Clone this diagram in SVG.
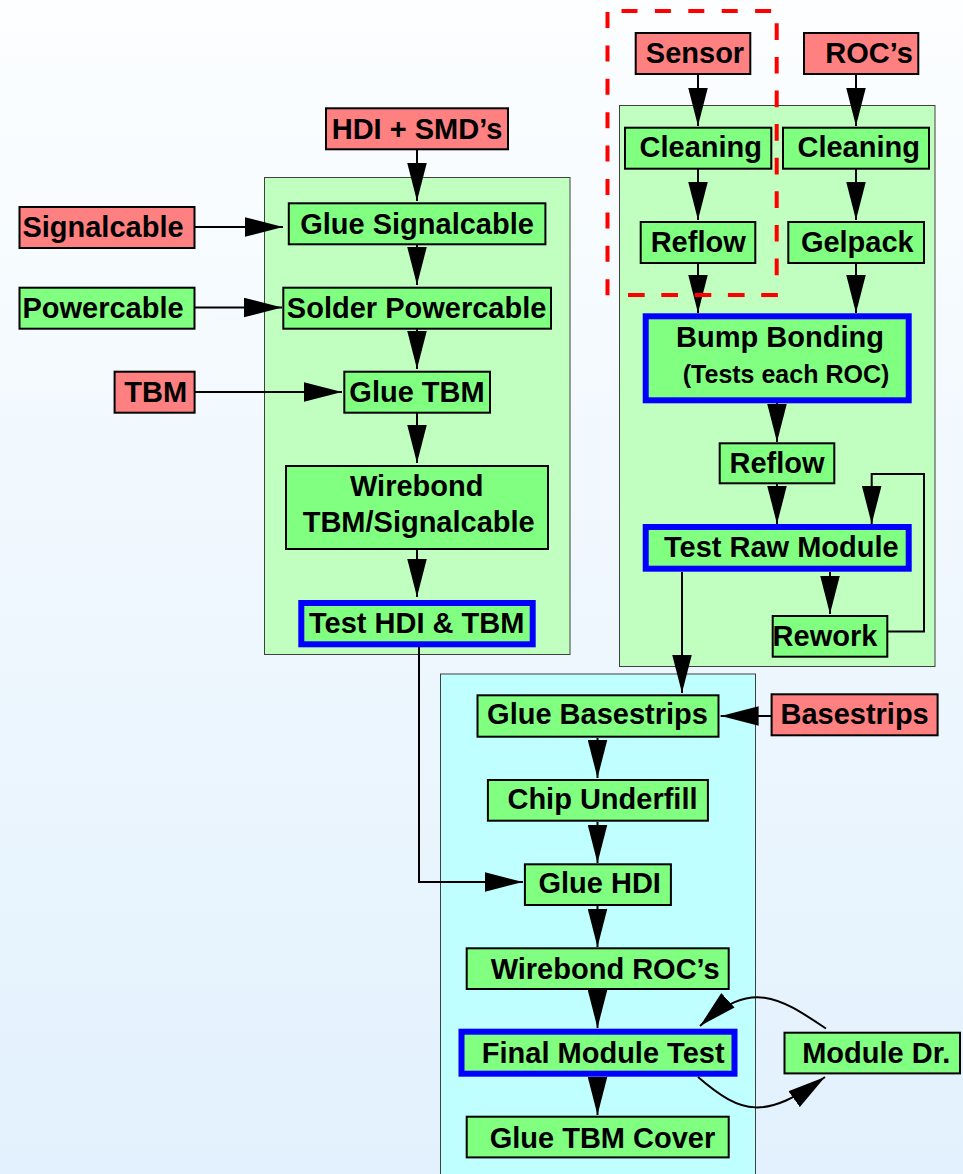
<svg xmlns="http://www.w3.org/2000/svg" width="963" height="1174" viewBox="0 0 963 1174">
<defs>
<linearGradient id="bg" x1="0" y1="0" x2="0" y2="1">
<stop offset="0" stop-color="#fcfeff"/>
<stop offset="1" stop-color="#e2f1fd"/>
</linearGradient>
<marker id="ah" markerUnits="userSpaceOnUse" markerWidth="38" markerHeight="20" viewBox="0 0 37 19" refX="37" refY="9.5" orient="auto">
<path d="M0,0 L37,9.5 L0,19 Z" fill="#000"/>
</marker>
<style>
.cont{stroke:#404040;stroke-width:1}
.cg{fill:#c0ffc0}
.cc{fill:#c0ffff}
.red{fill:#ff8080;stroke:#000;stroke-width:2}
.grn{fill:#80ff80;stroke:#000;stroke-width:2}
.tst{fill:#80ff80;stroke:#0000ff;stroke-width:6}
text{font-family:"Liberation Sans",Arial,Helvetica,sans-serif;font-weight:bold;font-size:29px;fill:#000;text-anchor:middle}
.sm{font-size:25px}
.edge{fill:none;stroke:#000;stroke-width:2;marker-end:url(#ah)}
.dash{fill:none;stroke:#ff0000;stroke-width:4;stroke-dasharray:16 17.4}
</style>
</defs>
<rect x="0" y="0" width="963" height="1174" fill="url(#bg)"/>

<g id="containers">
<rect id="c-left" class="cont cg" x="264.5" y="177.5" width="305.5" height="477"/>
<rect id="c-right" class="cont cg" x="619.5" y="105.5" width="315.5" height="561"/>
<rect id="c-bottom" class="cont cc" x="440.5" y="674" width="315" height="520"/>
</g>

<g id="connectors">
<path class="edge" d="M417,150 L417,201"/>
<path class="edge" d="M195,227 L283,227"/>
<path class="edge" d="M417,245 L417,285"/>
<path class="edge" d="M195,307.5 L282,307.5"/>
<path class="edge" d="M417,329 L417,369"/>
<path class="edge" d="M195,392 L342,392"/>
<path class="edge" d="M417,413 L417,463"/>
<path class="edge" d="M417,550 L417,597"/>
<path class="edge" d="M419,647 L419,882 L523,882"/>
<path class="edge" d="M698,74 L698,126"/>
<path class="edge" d="M856,74 L856,126"/>
<path class="edge" d="M698,169 L698,220"/>
<path class="edge" d="M856,169 L856,220"/>
<path class="edge" d="M698,264 L698,313"/>
<path class="edge" d="M856,264 L856,313"/>
<path class="edge" d="M777,403 L777,442"/>
<path class="edge" d="M777,484 L777,524"/>
<path class="edge" d="M830,572 L830,614"/>
<path class="edge" d="M888,631.5 L924,631.5 L924,474 L871.7,474 L871.7,524"/>
<path class="edge" d="M682,572 L682,693"/>
<path class="edge" d="M771,716 L720.6,716"/>
<path class="edge" d="M597.5,738 L597.5,778"/>
<path class="edge" d="M597.5,822 L597.5,863"/>
<path class="edge" d="M597.5,906 L597.5,947"/>
<path class="edge" d="M597.5,990 L597.5,1028"/>
<path class="edge" d="M597.5,1077 L597.5,1115"/>
<path class="edge" d="M826,1028.5 C780,998 752,978 700,1026"/>
<path class="edge" d="M698,1077 C742,1115 765,1120 825,1077"/>
</g>

<g id="n-hdi"><rect class="red" x="326" y="108.3" width="182" height="41"/><text x="417" y="138.5">HDI + SMD’s</text></g>
<g id="n-signalcable"><rect class="red" x="19.5" y="207" width="175" height="41"/><text x="103" y="237">Signalcable</text></g>
<g id="n-glue-signalcable"><rect class="grn" x="288.8" y="203.3" width="256.6" height="41"/><text x="417" y="233.5">Glue Signalcable</text></g>
<g id="n-powercable"><rect class="grn" x="19.5" y="287.7" width="175" height="41"/><text x="103" y="317.5">Powercable</text></g>
<g id="n-solder"><rect class="grn" x="283.3" y="287.7" width="267.7" height="41"/><text x="416.6" y="317.5">Solder Powercable</text></g>
<g id="n-tbm"><rect class="red" x="114.6" y="371.7" width="80" height="41"/><text x="155.7" y="401.7">TBM</text></g>
<g id="n-glue-tbm"><rect class="grn" x="344.3" y="371.7" width="145.7" height="41"/><text x="417" y="401.7">Glue TBM</text></g>
<g id="n-wirebond-tbm"><rect class="grn" x="286" y="466" width="262" height="83"/><text x="416.7" y="496">Wirebond</text><text x="418.7" y="531.7">TBM/Signalcable</text></g>
<g id="n-test-hdi"><rect class="tst" x="301.3" y="603" width="231.4" height="41.3"/><text x="416.7" y="633.3">Test HDI &amp; TBM</text></g>

<g id="n-sensor"><rect class="red" x="635.7" y="33" width="114.6" height="41"/><text x="695" y="63.3">Sensor</text></g>
<g id="n-rocs"><rect class="red" x="804" y="33" width="114.3" height="41"/><text x="869" y="63.3">ROC’s</text></g>
<g id="n-cleaning-l"><rect class="grn" x="625" y="127.7" width="146.3" height="41"/><text x="700.8" y="156.7">Cleaning</text></g>
<g id="n-cleaning-r"><rect class="grn" x="783" y="127.7" width="146" height="41"/><text x="858.7" y="156.7">Cleaning</text></g>
<g id="n-reflow-1"><rect class="grn" x="640.7" y="222" width="114.6" height="41"/><text x="698.2" y="252.3">Reflow</text></g>
<g id="n-gelpack"><rect class="grn" x="788.3" y="222" width="135.7" height="41"/><text x="857.3" y="252.3">Gelpack</text></g>
<g id="n-bump"><rect class="tst" x="645.7" y="316.3" width="263" height="84"/><text x="780" y="346.7">Bump Bonding</text><text class="sm" x="786" y="383">(Tests each ROC)</text></g>
<g id="n-reflow-2"><rect class="grn" x="719.7" y="443.3" width="114.6" height="40"/><text x="777" y="473.3">Reflow</text></g>
<g id="n-test-raw"><rect class="tst" x="645.7" y="527" width="263" height="41.7"/><text x="781.3" y="556.7">Test Raw Module</text></g>
<g id="n-rework"><rect class="grn" x="772.7" y="616" width="114.6" height="40.7"/><text x="825" y="645.7">Rework</text></g>

<g id="n-glue-basestrips"><rect class="grn" x="477.5" y="695.3" width="241" height="41.4"/><text x="597.5" y="724.3">Glue Basestrips</text></g>
<g id="n-basestrips"><rect class="red" x="771.6" y="694.3" width="166" height="41"/><text x="854.6" y="724.3">Basestrips</text></g>
<g id="n-chip-underfill"><rect class="grn" x="487.9" y="780" width="220" height="40.7"/><text x="602.5" y="809">Chip Underfill</text></g>
<g id="n-glue-hdi"><rect class="grn" x="524.9" y="864.3" width="146" height="40.7"/><text x="599.7" y="893.3">Glue HDI</text></g>
<g id="n-wirebond-rocs"><rect class="grn" x="466.7" y="948.3" width="262" height="40.7"/><text x="605.2" y="979">Wirebond ROC’s</text></g>
<g id="n-final"><rect class="tst" x="461.5" y="1031.7" width="273" height="42"/><text x="603.2" y="1063.3">Final Module Test</text></g>
<g id="n-glue-tbm-cover"><rect class="grn" x="466.7" y="1116.7" width="262" height="40.7"/><text x="602.5" y="1147.7">Glue TBM Cover</text></g>
<g id="n-module-dr"><rect class="grn" x="784.5" y="1032.7" width="175.5" height="40.7"/><text x="876.3" y="1063.3">Module Dr.</text></g>

<g id="sensor-group">
<path class="dash" d="M621.5,11 L772,11"/>
<path class="dash" d="M776.7,23.3 L776.7,276" style="stroke-dasharray:16.7 16.9"/>
<path class="dash" d="M628,295 L778,295" style="stroke-dasharray:16.7 16.6"/>
<path class="dash" d="M607.5,12 L607.5,296" style="stroke-dasharray:16 17.4"/>
</g>
</svg>
